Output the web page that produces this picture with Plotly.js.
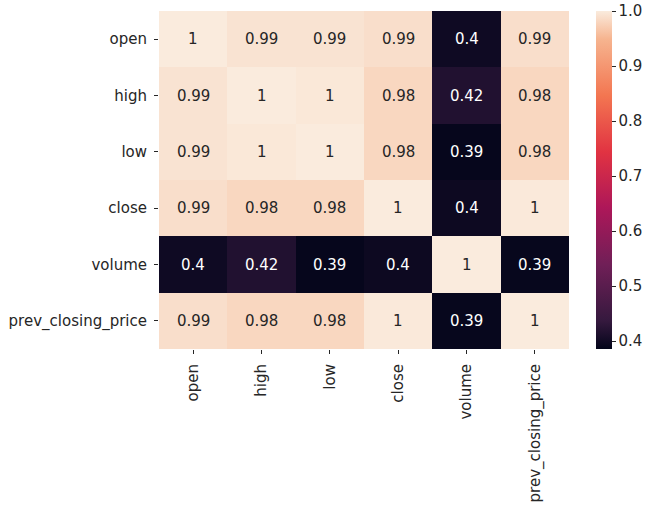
<!DOCTYPE html>
<html><head><meta charset="utf-8">
<script src="https://cdn.plot.ly/plotly-3.0.1.min.js"></script>
<style>body{margin:0;background:#fff}#chart{width:654px;height:508px}</style>
</head><body><div id="chart"></div>
<script>
const labels = ["open","high","low","close","volume","prev_closing_price"];
const rowOpen   = [1.00, 0.993, 0.993, 0.988, 0.398, 0.988];
const rowHigh   = [0.993, 1.00, 0.997, 0.981, 0.416, 0.981];
const rowLow    = [0.993, 0.997, 1.00, 0.981, 0.389, 0.981];
const rowClose  = [0.988, 0.981, 0.981, 1.00, 0.396, 0.998];
const rowVolume = [0.398, 0.416, 0.389, 0.396, 1.00, 0.390];
const rowPrev   = [0.988, 0.981, 0.981, 0.998, 0.390, 1.00];
const z = [rowOpen,rowHigh,rowLow,rowClose,rowVolume,rowPrev];

const rocket = [
 [0.0,'#03051A'],[0.083,'#35193E'],[0.25,'#701F57'],[0.417,'#AD1759'],
 [0.583,'#E13342'],[0.75,'#F37651'],[0.917,'#F6B48F'],[1.0,'#FAEBDD']];

function fmt(v){ return String(parseFloat(v.toPrecision(2))); }

const annotations = [];
z.forEach((row,i)=>row.forEach((v,j)=>{
  annotations.push({x:labels[j], y:labels[i], text:fmt(v), showarrow:false,
    font:{family:'DejaVu Sans', size:15, color: v<0.7 ? '#ffffff' : '#262626'}});
}));

const trace = {type:'heatmap', x:labels, y:labels, z:z, colorscale:rocket,
  zmin:0.3855, zmax:1.0, xgap:0, ygap:0, hoverinfo:'skip',
  colorbar:{x:1.065, xanchor:'left', y:1, yanchor:'top', len:1, lenmode:'fraction',
    thickness:16, thicknessmode:'pixels', outlinewidth:0, ticks:'outside', ticklen:4,
    tickcolor:'#262626', tickvals:[0.4,0.5,0.6,0.7,0.8,0.9,1.0], ticktext:['0.4','0.5','0.6','0.7','0.8','0.9','1.0'],
    ticklabelstandoff:2,
    tickfont:{family:'DejaVu Sans', size:15, color:'#262626'}, xpad:0, ypad:0}};

const axisBase = {showgrid:false, zeroline:false, showline:false, ticks:'outside', ticklen:4,
  tickcolor:'#262626', ticklabelstandoff:4, tickfont:{family:'DejaVu Sans', size:15, color:'#262626'}};

Plotly.newPlot('chart',[trace],{
  width:654, height:508, margin:{l:159,r:79,t:11,b:159},
  paper_bgcolor:'#fff', plot_bgcolor:'#fff',
  xaxis:Object.assign({}, axisBase, {tickangle:-90, type:'category'}),
  yaxis:Object.assign({}, axisBase, {autorange:'reversed', type:'category'}),
  annotations:annotations
},{displayModeBar:false, staticPlot:true});
</script></body></html>
